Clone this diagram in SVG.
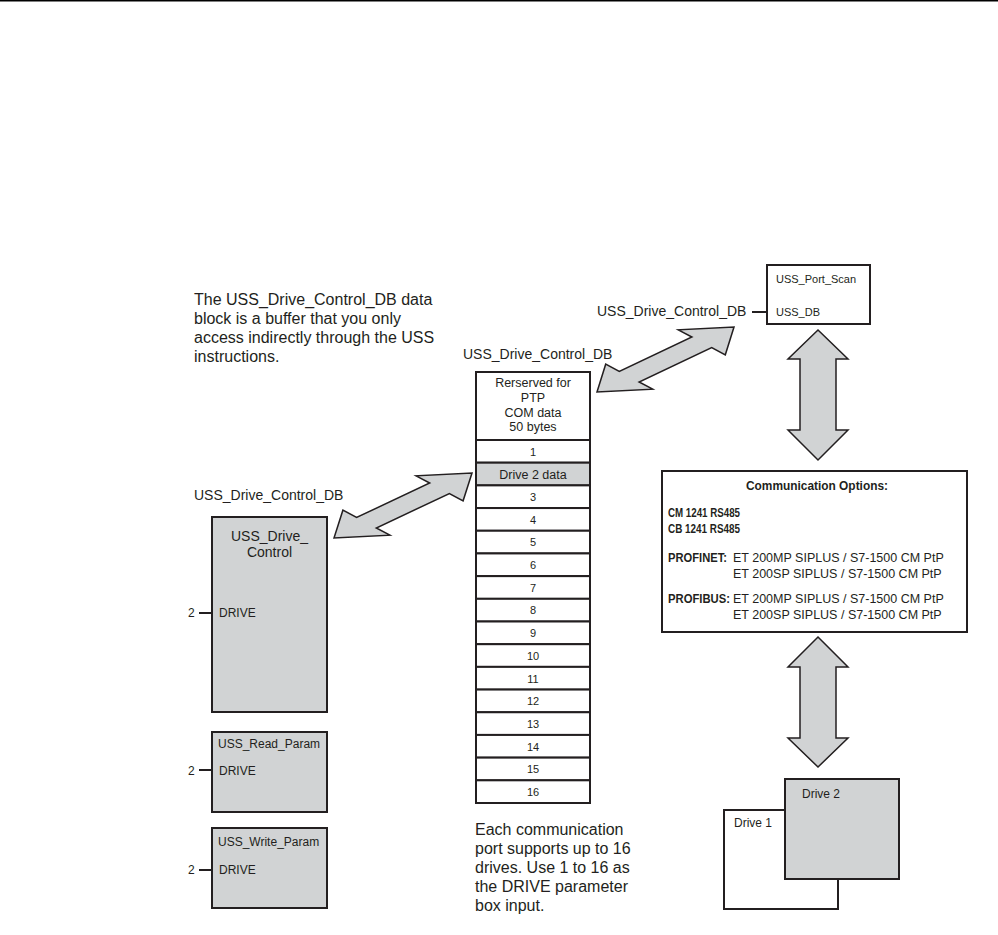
<svg xmlns="http://www.w3.org/2000/svg" width="998" height="935" viewBox="0 0 998 935">
<style>
text{font-family:"Liberation Sans",Arial,sans-serif;fill:#231f20}
.p{font-size:16px}
.l{font-size:14px}
.s{font-size:12px}
.t{font-size:12.5px;text-anchor:middle}
.n{font-size:11px;text-anchor:middle}
.b{font-size:12.5px;font-weight:bold}
.box{stroke:#231f20;stroke-width:2}
.g{fill:#d1d3d4}
.w{fill:#ffffff}
.arr{fill:#d1d3d4;stroke:#231f20;stroke-width:1.5;stroke-linejoin:miter}
.pin{stroke:#231f20;stroke-width:2}
</style>
<rect x="0" y="0" width="998" height="1.5" fill="#000"/>

<g id="note-top">
<text class="p" x="194" y="305">The USS_Drive_Control_DB data</text>
<text class="p" x="194" y="324">block is a buffer that you only</text>
<text class="p" x="194" y="343">access indirectly through the USS</text>
<text class="p" x="194" y="362">instructions.</text>
</g>

<g id="note-bottom">
<text class="p" x="475" y="835">Each communication</text>
<text class="p" x="475" y="854">port supports up to 16</text>
<text class="p" x="475" y="873">drives. Use 1 to 16 as</text>
<text class="p" x="475" y="892">the DRIVE parameter</text>
<text class="p" x="475" y="911">box input.</text>
</g>

<g id="db-table">
<text class="l" x="463" y="359">USS_Drive_Control_DB</text>
<rect class="box w" x="476" y="372" width="114" height="68"/>
<text class="t" x="533" y="387">Rerserved for</text>
<text class="t" x="533" y="402">PTP</text>
<text class="t" x="533" y="417">COM data</text>
<text class="t" x="533" y="431">50 bytes</text>
<rect class="box w" x="476" y="440" width="114" height="22.69"/>
<text class="n" x="533" y="455.6">1</text>
<rect class="box g" x="476" y="462.69" width="114" height="22.69"/>
<text class="t" x="533" y="478.5">Drive 2 data</text>
<rect class="box w" x="476" y="485.38" width="114" height="22.69"/>
<text class="n" x="533" y="501">3</text>
<rect class="box w" x="476" y="508.06" width="114" height="22.69"/>
<text class="n" x="533" y="523.7">4</text>
<rect class="box w" x="476" y="530.75" width="114" height="22.69"/>
<text class="n" x="533" y="546.4">5</text>
<rect class="box w" x="476" y="553.44" width="114" height="22.69"/>
<text class="n" x="533" y="569">6</text>
<rect class="box w" x="476" y="576.13" width="114" height="22.69"/>
<text class="n" x="533" y="591.7">7</text>
<rect class="box w" x="476" y="598.81" width="114" height="22.69"/>
<text class="n" x="533" y="614.4">8</text>
<rect class="box w" x="476" y="621.5" width="114" height="22.69"/>
<text class="n" x="533" y="637.1">9</text>
<rect class="box w" x="476" y="644.19" width="114" height="22.69"/>
<text class="n" x="533" y="659.8">10</text>
<rect class="box w" x="476" y="666.88" width="114" height="22.69"/>
<text class="n" x="533" y="682.5">11</text>
<rect class="box w" x="476" y="689.56" width="114" height="22.69"/>
<text class="n" x="533" y="705.2">12</text>
<rect class="box w" x="476" y="712.25" width="114" height="22.69"/>
<text class="n" x="533" y="727.9">13</text>
<rect class="box w" x="476" y="734.94" width="114" height="22.69"/>
<text class="n" x="533" y="750.5">14</text>
<rect class="box w" x="476" y="757.63" width="114" height="22.69"/>
<text class="n" x="533" y="773.2">15</text>
<rect class="box w" x="476" y="780.31" width="114" height="22.69"/>
<text class="n" x="533" y="795.9">16</text>
</g>

<g id="uss-drive-control">
<text class="l" x="194" y="500">USS_Drive_Control_DB</text>
<rect class="box g" x="212" y="517" width="115" height="195"/>
<text class="l" x="269.5" y="541" text-anchor="middle">USS_Drive_</text>
<text class="l" x="269.5" y="557" text-anchor="middle">Control</text>
<text class="s" x="219" y="617">DRIVE</text>
<text class="s" x="188" y="617">2</text>
<line class="pin" x1="199" y1="613" x2="212" y2="613"/>
</g>

<g id="uss-read-param">
<rect class="box g" x="212" y="732" width="115" height="80"/>
<text class="s" x="218" y="748">USS_Read_Param</text>
<text class="s" x="219" y="774.5">DRIVE</text>
<text class="s" x="188" y="774.5">2</text>
<line class="pin" x1="199" y1="770" x2="212" y2="770"/>
</g>

<g id="uss-write-param">
<rect class="box g" x="212" y="828" width="115" height="80"/>
<text class="s" x="218" y="846">USS_Write_Param</text>
<text class="s" x="219" y="874">DRIVE</text>
<text class="s" x="188" y="874">2</text>
<line class="pin" x1="199" y1="870" x2="212" y2="870"/>
</g>

<g id="uss-port-scan">
<text class="l" x="597" y="316">USS_Drive_Control_DB</text>
<line class="pin" x1="752" y1="312" x2="767" y2="312"/>
<rect class="box w" x="767" y="265" width="103" height="59"/>
<text x="776" y="283" font-size="11">USS_Port_Scan</text>
<text x="776" y="316" font-size="11">USS_DB</text>
</g>

<g id="comm-options">
<rect class="box w" x="662" y="471" width="305" height="161"/>
<text class="b" x="817" y="490" text-anchor="middle" textLength="142" lengthAdjust="spacingAndGlyphs">Communication Options:</text>
<text class="b" x="668" y="517" textLength="72" lengthAdjust="spacingAndGlyphs">CM 1241 RS485</text>
<text class="b" x="668" y="533" textLength="72" lengthAdjust="spacingAndGlyphs">CB 1241 RS485</text>
<text class="b" x="668" y="562" textLength="59" lengthAdjust="spacingAndGlyphs">PROFINET:</text>
<text x="733" y="562" font-size="12.5">ET 200MP SIPLUS / S7-1500 CM PtP</text>
<text x="733" y="578" font-size="12.5">ET 200SP SIPLUS / S7-1500 CM PtP</text>
<text class="b" x="668" y="603" textLength="62" lengthAdjust="spacingAndGlyphs">PROFIBUS:</text>
<text x="733" y="603" font-size="12.5">ET 200MP SIPLUS / S7-1500 CM PtP</text>
<text x="733" y="619" font-size="12.5">ET 200SP SIPLUS / S7-1500 CM PtP</text>
</g>

<g id="drive-1">
<rect class="box w" x="724" y="810" width="114" height="99"/>
<text class="s" x="734" y="827">Drive 1</text>
</g>
<g id="drive-2">
<rect class="box g" x="785" y="779" width="114" height="100"/>
<text class="s" x="802" y="798">Drive 2</text>
</g>

<g id="connectors">
<polygon class="arr" points="334,538 342.9,510.2 356.6,517.5 429.7,483 416.1,475.8 472,473 463.1,500.8 449.4,493.5 376.3,528 389.9,535.2"/>
<polygon class="arr" points="597,392 605.7,364.2 619.3,371.5 691.9,337 678.3,329.8 734,327 725.3,354.8 711.7,347.5 639.1,382 652.7,389.2"/>
<polygon class="arr" points="818,330 848,359 836,359 836,430 848,430 818,460 788,430 800,430 800,359 788,359"/>
<polygon class="arr" points="818,637 848,667 836,667 836,738 848,738 818,767 788,738 800,738 800,667 788,667"/>
</g>
</svg>
